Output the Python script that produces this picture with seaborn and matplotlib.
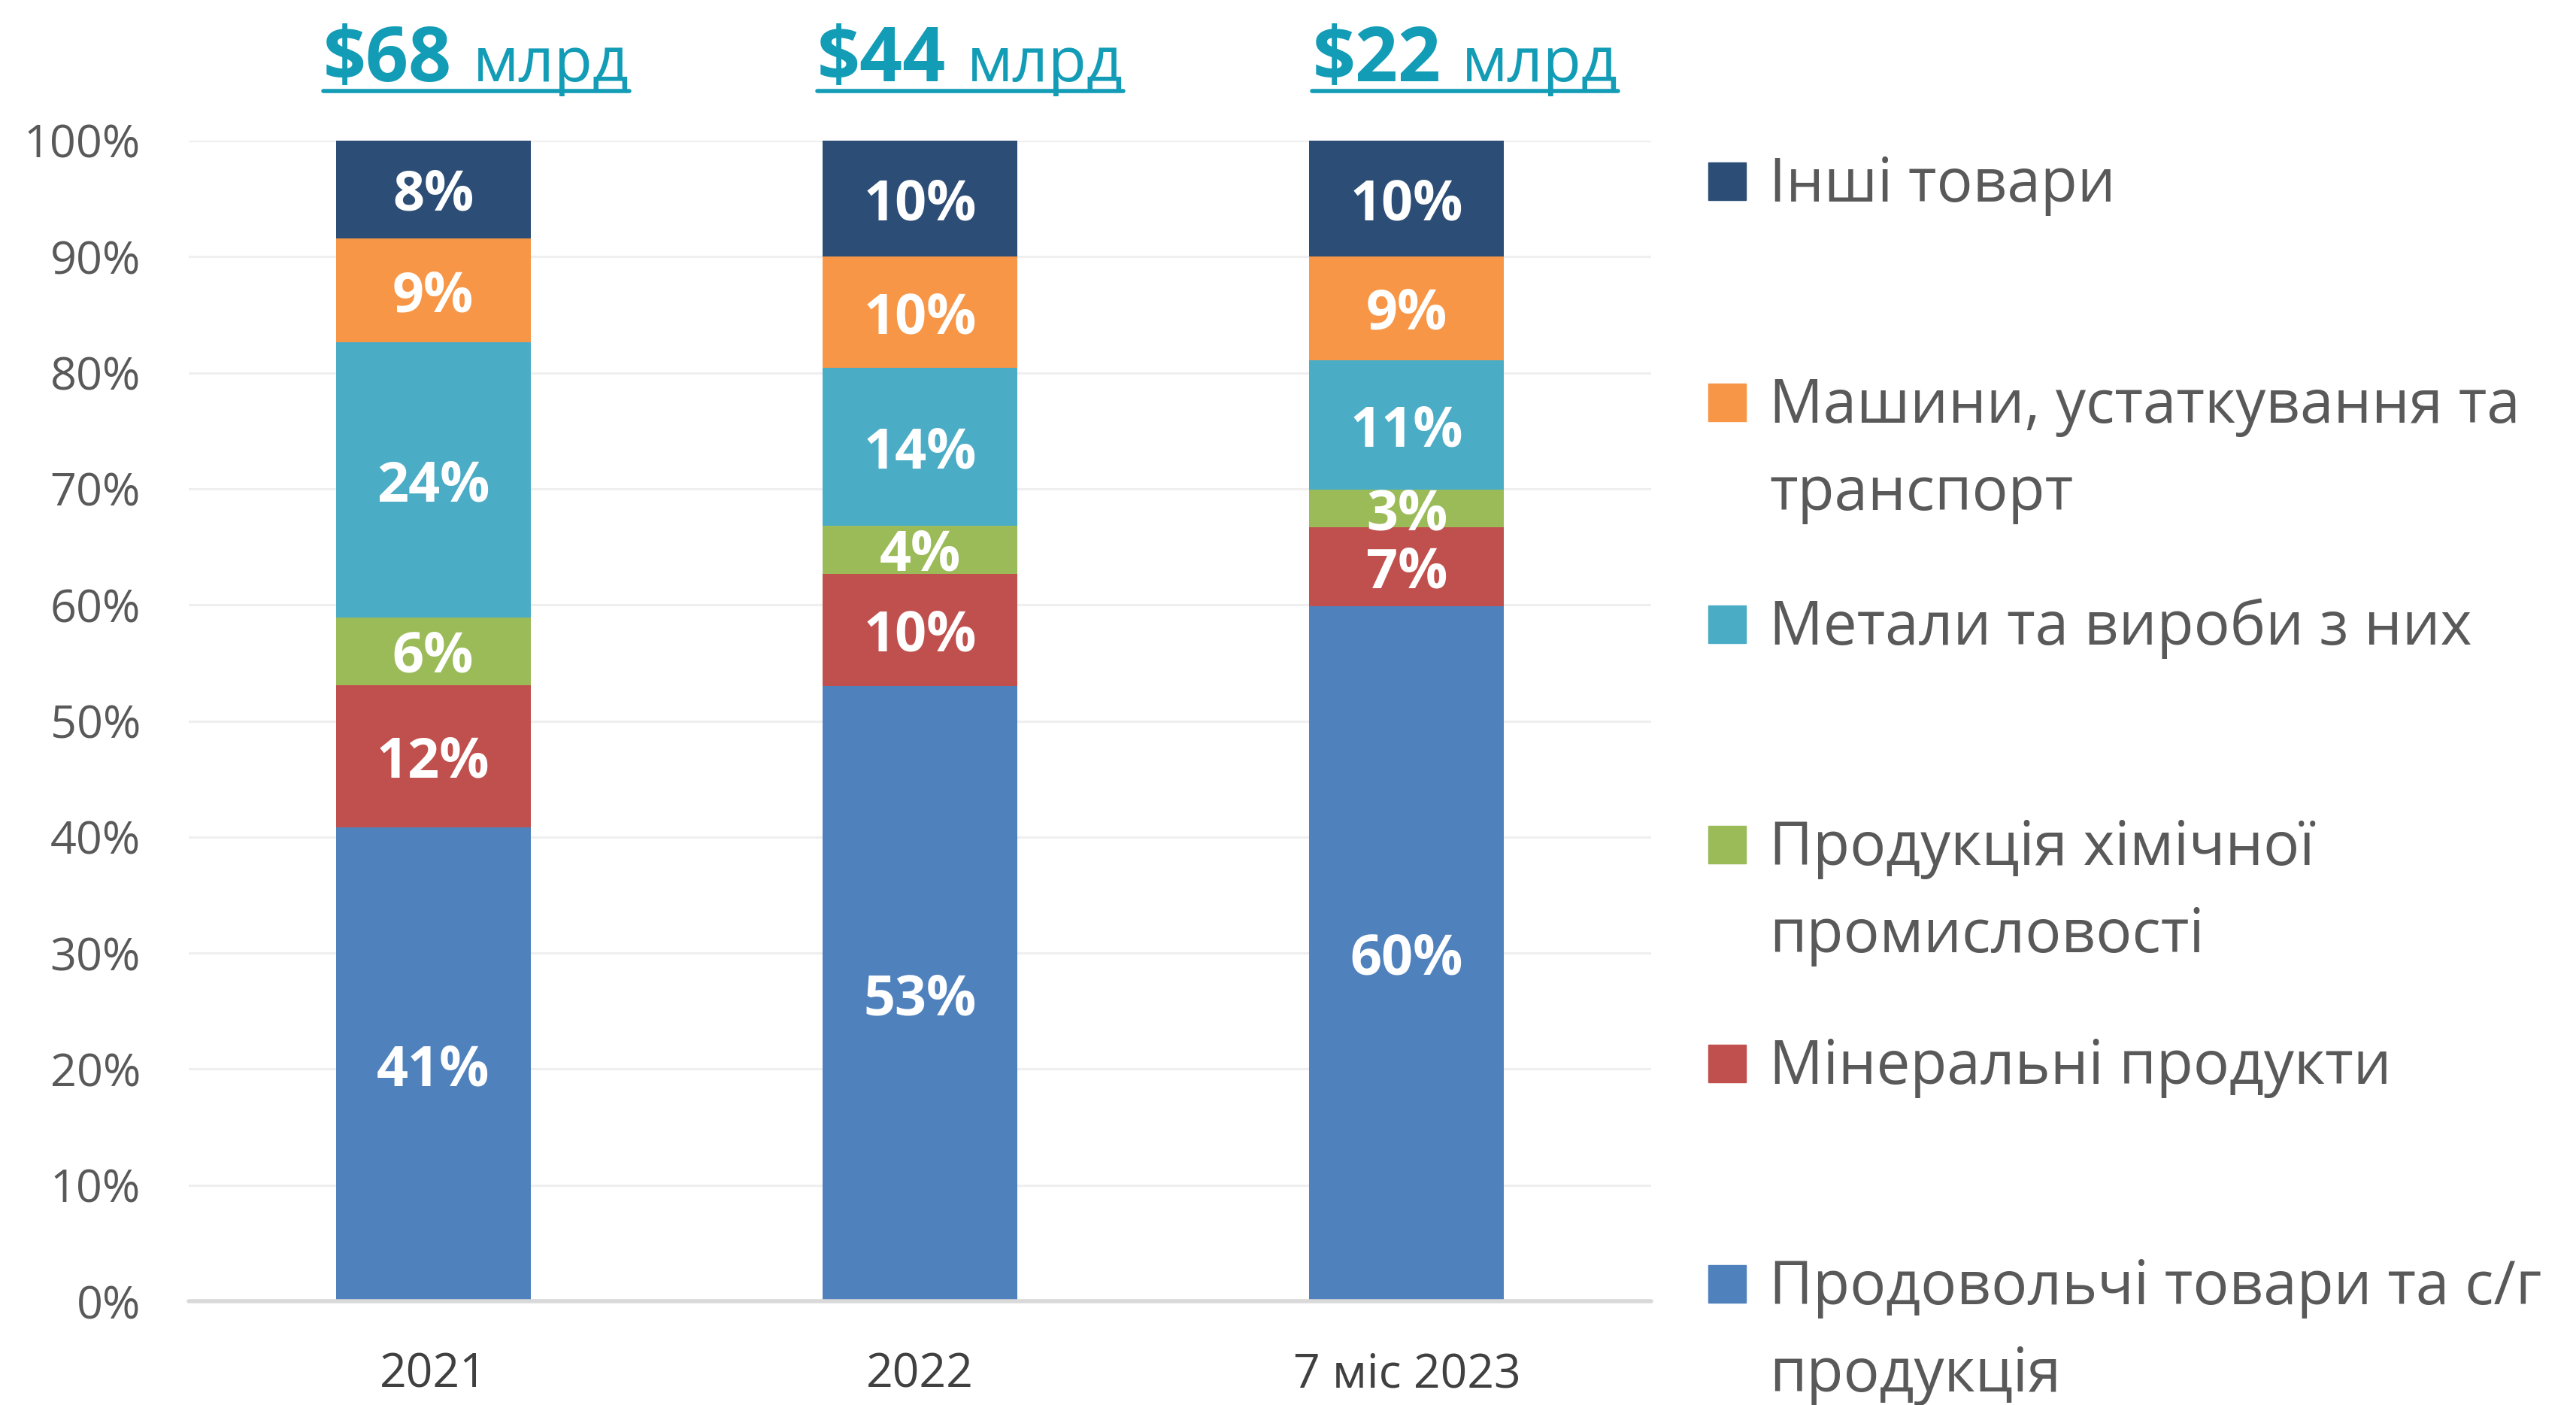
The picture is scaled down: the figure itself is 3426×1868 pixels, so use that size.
import matplotlib
matplotlib.use("Agg")
import matplotlib.pyplot as plt
import matplotlib.transforms as mtransforms
from matplotlib.patches import Rectangle
from matplotlib.lines import Line2D
import seaborn as sns
import numpy as np

# --- data (shares in %) ---
periods = ["2021", "2022", "7 міс 2023"]
totals = ["$68", "$44", "$22"]

categories = ["Продовольчі товари та с/г\nпродукція",
              "Мінеральні продукти",
              "Продукція хімічної\nпромисловості",
              "Метали та вироби з них",
              "Машини, устаткування та\nтранспорт",
              "Інші товари"]
colors = ["#4F81BD", "#C0504D", "#9BBB59", "#4BACC6", "#F79646", "#2C4D75"]

food = [40.8, 53.0, 59.9]
mineral = [12.3, 9.7, 6.8]
chem = [5.8, 4.1, 3.2]
metal = [23.7, 13.6, 11.2]
machinery = [9.0, 9.6, 8.9]
other = [8.4, 10.0, 10.0]

food_lbl = [41, 53, 60]
mineral_lbl = [12, 10, 7]
chem_lbl = [6, 4, 3]
metal_lbl = [24, 14, 11]
machinery_lbl = [9, 10, 9]
other_lbl = [8, 10, 10]

shares = np.array([food, mineral, chem, metal, machinery, other])
labels = [food_lbl, mineral_lbl, chem_lbl, metal_lbl, machinery_lbl, other_lbl]

sns.set_style("white")
plt.rcParams["font.family"] = ["Open Sans", "Noto Sans", "DejaVu Sans"]

W, H = 3426, 1868
fig = plt.figure(figsize=(W / 100, H / 100), dpi=100)
ax = fig.add_axes([251 / W, 1 - 1730 / H, (2196 - 251) / W, (1730 - 187) / H])

cum = np.cumsum(shares, axis=0)
# stacked bars as overlapping cumulative totals, top layer first
for i in reversed(range(len(categories))):
    sns.barplot(x=periods, y=cum[i], color=colors[i], saturation=1, width=0.4,
                errorbar=None, linewidth=0, ax=ax, zorder=3)

for i in range(len(categories)):
    bottoms = cum[i] - shares[i]
    for j in range(len(periods)):
        ax.text(j, bottoms[j] + shares[i][j] / 2, f"{labels[i][j]}%",
                ha="center", va="center_baseline", color="white", fontsize=53,
                fontweight="bold", zorder=5)

ax.set_xlim(-0.502, 2.502)
ax.set_ylim(0, 100)
ax.set_yticks(range(0, 101, 10))
ax.set_yticklabels([f"{v}%" for v in range(0, 101, 10)])
ax.tick_params(axis="y", length=0, pad=46, labelsize=44, labelcolor="#595959")
ax.tick_params(axis="x", length=0, pad=48, labelsize=45, labelcolor="#404040")
ax.set_xlabel("")
ax.set_ylabel("")
for s in ax.spines.values():
    s.set_visible(False)
ax.yaxis.grid(True, color="#EFEFEF", lw=2.2, zorder=0)
ax.set_axisbelow(True)
ax.axhline(0, color="#D9D9D9", lw=4, zorder=4, clip_on=False)

# legend drawn by hand (top to bottom), one text per line
leg_y = [241, 535, 830, 1123, 1414, 1707]
for k, i in enumerate(reversed(range(len(categories)))):
    yc = leg_y[k]
    fig.add_artist(Rectangle((2272 / W, 1 - (yc + 25) / H), 50 / W, 50 / H,
                             transform=fig.transFigure, color=colors[i]))
    for n, line in enumerate(categories[i].split("\n")):
        fig.text(2353 / W, 1 - (yc + 27 + n * 116) / H, line, ha="left",
                 va="baseline", fontsize=57.5, color="#595959")

# totals above bars, underlined
tc = "#139CB6"
title_dx = [-0.226, -0.211, -0.194]
tr = mtransforms.blended_transform_factory(ax.transData, fig.transFigure)
fig.canvas.draw()
rend = fig.canvas.get_renderer()
for j, t in enumerate(totals):
    t1 = ax.text(j + title_dx[j], 1 - 108 / H, t, transform=tr, ha="left",
                 va="baseline", fontsize=72, fontweight="bold", color=tc)
    b1 = t1.get_window_extent(rend)
    t2 = fig.text((b1.x1 + 28) / W, 1 - 108 / H, "млрд", ha="left", va="baseline",
                  fontsize=60, color=tc)
    b2 = t2.get_window_extent(rend)
    fig.add_artist(Line2D([b1.x0 / W, b2.x1 / W], [1 - 121 / H, 1 - 121 / H],
                          transform=fig.transFigure, color=tc, lw=4))

fig.savefig("out.png", dpi=100)
